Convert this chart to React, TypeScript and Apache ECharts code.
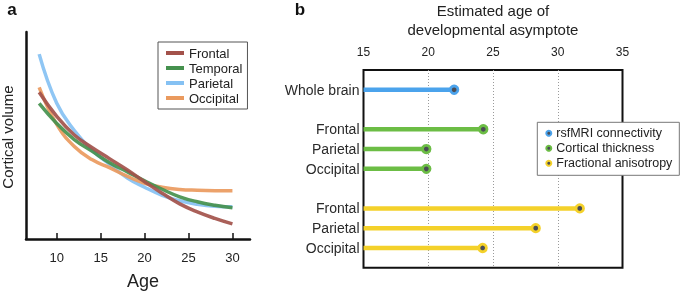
import React, { useEffect, useRef } from "react";
import * as echarts from "echarts";

// Panel a: cortical volume curves
const ages = [8, 10, 12, 14, 16, 18, 20, 22, 24, 26, 28, 30];
const frontal = [146, 122, 103.5, 91, 80, 69, 57, 45.5, 35, 27, 20.5, 15];
const temporal = [135, 115, 99, 87.5, 76, 67, 58, 49.5, 42, 37, 33.5, 31];
const parietal = [184, 135, 108, 88.5, 74.5, 61, 51.5, 43.5, 38, 34.5, 32.5, 32];
const occipital = [151, 114, 92, 79, 71, 62.5, 55.5, 51.5, 49.3, 48.5, 48.1, 48];
const ageTicks = [10, 15, 20, 25, 30];

// Panel b: estimated age of developmental asymptote
const rowLabels = ["Whole brain", "Frontal", "Parietal", "Occipital", "Frontal", "Parietal", "Occipital"];
const rowSlots = [0, 2, 3, 4, 6, 7, 8];
const connectivityAge = [22.0];
const thicknessAge = [24.25, 19.85, 19.85];
const anisotropyAge = [31.7, 28.3, 24.2];

const FONT = "Liberation Sans, Arial, sans-serif";
const DOT = "#4a4c55";

export default function App() {
  const ref = useRef<HTMLDivElement>(null);
  useEffect(() => {
    if (!ref.current) return;
    const chart = echarts.init(ref.current, null, { renderer: "svg" });

    const curve = (name: string, data: number[], color: string) => ({
      name,
      type: "line",
      xAxisIndex: 0,
      yAxisIndex: 0,
      data: ages.map((a, i) => [a, data[i]]),
      smooth: 0.45,
      symbol: "none",
      lineStyle: { color, width: 3.5, opacity: 0.92 },
      itemStyle: { color },
    });

    const groups = [
      { name: "rsfMRI connectivity", color: "#4ba3ec", values: connectivityAge, start: 0 },
      { name: "Cortical thickness", color: "#6cbd45", values: thicknessAge, start: 1 },
      { name: "Fractional anisotropy", color: "#f4d12a", values: anisotropyAge, start: 4 },
    ];

    const stems: any[] = [];
    const dots: any[] = [];
    groups.forEach((g) => {
      g.values.forEach((v, i) => {
        const row = rowSlots[g.start + i];
        stems.push({
          name: g.name + "-stem-" + i,
          type: "line",
          xAxisIndex: 1,
          yAxisIndex: 1,
          data: [[15, row], [v, row]],
          symbol: "none",
          lineStyle: { color: g.color, width: 4.5, cap: "butt" },
          z: 2,
        });
      });
      dots.push({
        name: g.name,
        type: "scatter",
        xAxisIndex: 1,
        yAxisIndex: 1,
        data: g.values.map((v, i) => [v, rowSlots[g.start + i]]),
        symbolSize: 7.5,
        itemStyle: { color: DOT, borderColor: g.color, borderWidth: 2.8, opacity: 1 },
        z: 3,
      });
    });

    const option: any = {
      animation: false,
      textStyle: { fontFamily: FONT },
      grid: [
        { left: 26, top: 32, width: 224, height: 207 },
        { left: 363.5, top: 70, width: 259, height: 197.7, show: true, borderColor: "#111", borderWidth: 2, backgroundColor: "transparent" },
      ],
      xAxis: [
        {
          gridIndex: 0,
          type: "value",
          min: 6.5,
          max: 32,
          axisLine: { show: true, lineStyle: { color: "#111", width: 2.5 } },
          axisTick: { show: true, inside: true, length: 6, lineStyle: { color: "#111", width: 1.5 }, customValues: ageTicks },
          axisLabel: { customValues: ageTicks, fontSize: 13, color: "#222", margin: 12, fontFamily: FONT },
          splitLine: { show: false },
        },
        {
          gridIndex: 1,
          type: "value",
          position: "top",
          min: 15,
          max: 35,
          interval: 5,
          axisLine: { show: false },
          axisTick: { show: false },
          axisLabel: { fontSize: 12, color: "#222", margin: 12, fontFamily: FONT },
          splitLine: { show: true, showMinLine: false, showMaxLine: false, lineStyle: { color: "#9a9a9a", type: [1, 2], width: 1 } },
        },
      ],
      yAxis: [
        {
          gridIndex: 0,
          type: "value",
          min: 0,
          max: 206,
          axisLine: { show: true, lineStyle: { color: "#111", width: 2.5 } },
          axisTick: { show: false },
          axisLabel: { show: false },
          splitLine: { show: false },
        },
        {
          gridIndex: 1,
          type: "value",
          min: -1,
          max: 9,
          inverse: true,
          axisLine: { show: false },
          axisTick: { show: false },
          splitLine: { show: false },
          axisLabel: {
            customValues: rowSlots,
            formatter: (v: number) => {
              const k = rowSlots.indexOf(Math.round(v));
              return k >= 0 ? rowLabels[k] : "";
            },
            fontSize: 14,
            color: "#2a2a2a",
            margin: 4,
            fontFamily: FONT,
          },
        },
      ],
      legend: [
        {
          data: ["Frontal", "Temporal", "Parietal", "Occipital"],
          orient: "vertical",
          left: 158,
          top: 42,
          icon: "rect",
          itemWidth: 18,
          itemHeight: 4,
          itemGap: 1,
          itemTextGap: 4,
          padding: [4, 5, 4, 8],
          backgroundColor: "#fff",
          borderColor: "#555",
          borderWidth: 1,
          textStyle: { fontSize: 13, color: "#222", lineHeight: 14, fontFamily: FONT },
          selectedMode: false,
        },
        {
          data: groups.map((g) => g.name),
          orient: "vertical",
          left: 537.3,
          top: 122.3,
          icon: "circle",
          itemWidth: 5,
          itemHeight: 5,
          itemGap: 1,
          itemTextGap: 8,
          padding: [4, 7, 5, 8],
          backgroundColor: "#fff",
          borderColor: "#777",
          borderWidth: 1,
          textStyle: { fontSize: 12.5, color: "#222", lineHeight: 14, fontFamily: FONT },
          selectedMode: false,
          z: 10,
        },
      ],
      graphic: [
        { type: "text", x: 12, y: 9, style: { text: "a", font: "bold 17px " + FONT, fill: "#111", textAlign: "center", textVerticalAlign: "middle" } },
        { type: "text", x: 300, y: 9, style: { text: "b", font: "bold 17px " + FONT, fill: "#111", textAlign: "center", textVerticalAlign: "middle" } },
        { type: "text", x: 7.5, y: 137, rotation: Math.PI / 2, style: { text: "Cortical volume", font: "15px " + FONT, fill: "#222", textAlign: "center", textVerticalAlign: "middle" } },
        { type: "text", x: 143, y: 281, style: { text: "Age", font: "18px " + FONT, fill: "#222", textAlign: "center", textVerticalAlign: "middle" } },
        { type: "text", x: 493, y: 10.5, style: { text: "Estimated age of", font: "15px " + FONT, fill: "#222", textAlign: "center", textVerticalAlign: "middle" } },
        { type: "text", x: 493, y: 29.5, style: { text: "developmental asymptote", font: "15px " + FONT, fill: "#222", textAlign: "center", textVerticalAlign: "middle" } },
      ],
      series: [
        curve("Parietal", parietal, "#85c1f3"),
        curve("Occipital", occipital, "#ea9a5e"),
        curve("Temporal", temporal, "#45914e"),
        curve("Frontal", frontal, "#a3524b"),
        ...stems,
        ...dots,
      ],
    };
    chart.setOption(option);
    return () => chart.dispose();
  }, []);

  return <div ref={ref} style={{ position: "fixed", left: 0, top: 0, width: 685, height: 293 }} />;
}
